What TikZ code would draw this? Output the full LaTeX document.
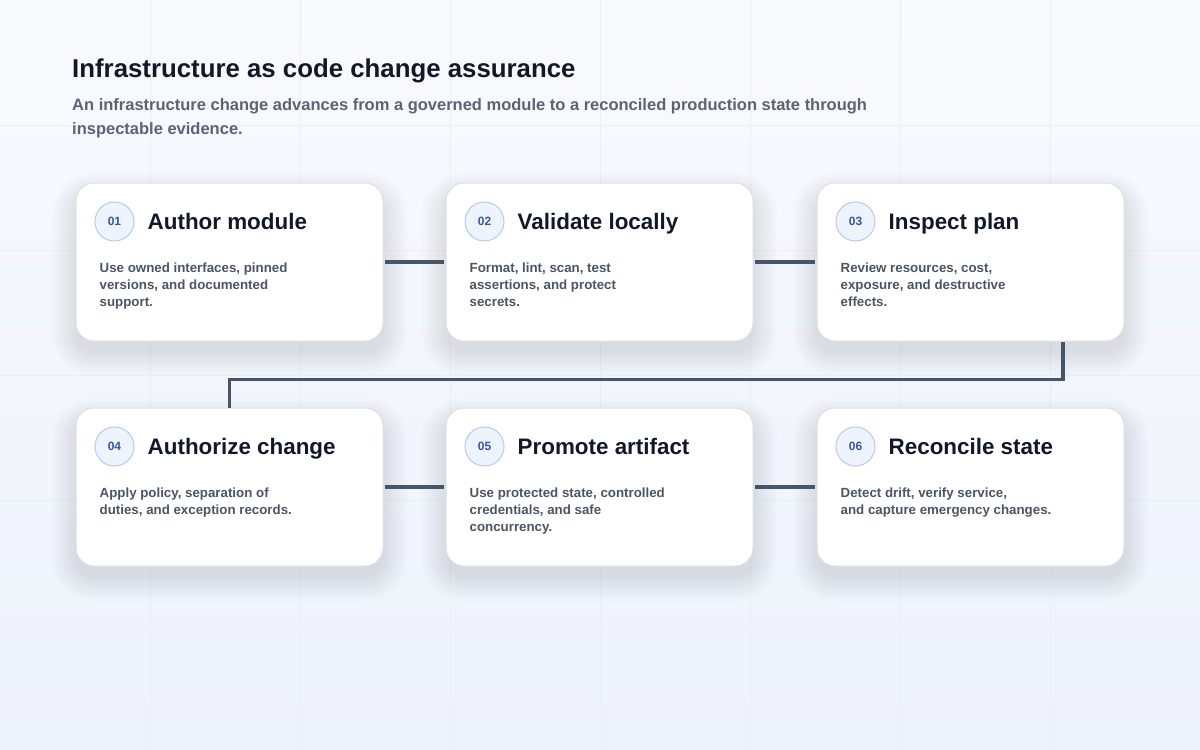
\documentclass[tikz,border=0pt]{standalone}
\usepackage{fontspec}
\setmainfont{Liberation Sans}
\usetikzlibrary{calc}
\definecolor{bgtop}{HTML}{F8FAFD}
\definecolor{bgbot}{HTML}{EEF2FB}
\definecolor{gridc}{HTML}{EAEEF5}
\definecolor{titlec}{HTML}{111827}
\definecolor{subc}{HTML}{5A6476}
\definecolor{bodyc}{HTML}{4B5563}
\definecolor{cardline}{HTML}{D9E0EA}
\definecolor{connc}{HTML}{475569}
\definecolor{badgefill}{HTML}{EEF4FD}
\definecolor{badgeline}{HTML}{B9C9E8}
\definecolor{badgetext}{HTML}{3556A3}
\definecolor{shadowc}{HTML}{5A6A8C}
\pgfdeclarelayer{bglayer}
\pgfdeclarelayer{shadowlayer}
\pgfsetlayers{bglayer,shadowlayer,main}
\begin{document}
\begin{tikzpicture}[x=1pt,y=-1pt,
  card/.style={rectangle, rounded corners=18pt, minimum width=307pt, minimum height=158pt,
    fill=white, draw=cardline, line width=1pt},
  badge/.style={circle, minimum size=39pt, inner sep=0pt, fill=badgefill, draw=badgeline, line width=1pt,
    text=badgetext, font=\bfseries\fontsize{12}{13}\selectfont},
  cardtitle/.style={anchor=base west, inner sep=0pt, text=titlec, font=\bfseries\fontsize{22.4}{26}\selectfont},
  cardbody/.style={anchor=north west, inner sep=0pt, align=left, text=bodyc, font=\bfseries\fontsize{13.3}{17}\selectfont},
  conn/.style={draw=connc, line width=3.5pt},
  shadowpiece/.style={fill=shadowc, fill opacity=0.01},
]
\useasboundingbox (0,0) rectangle (1200,750);
\begin{pgfonlayer}{bglayer}
\shade[top color=bgtop, bottom color=bgbot] (0,0) rectangle (1200,750);
\foreach \x in {150,300,...,1050} \draw[gridc, line width=0.8pt] (\x,0) -- (\x,750);
\foreach \y in {125,250,...,625} \draw[gridc, line width=0.8pt] (0,\y) -- (1200,\y);
\end{pgfonlayer}

\node[anchor=base west, inner sep=0pt, text=titlec, font=\bfseries\fontsize{25.8}{30}\selectfont] (title) at (72,77) {Infrastructure as code change assurance};
\node[anchor=north west, inner sep=0pt, align=left, text=subc, font=\bfseries\fontsize{16.5}{24}\selectfont] (sub) at (72,98) {An infrastructure change advances from a governed module to a reconciled production state through\\inspectable evidence.};

\node[card] (c1) at (229.5,262) {};
\node[card] (c2) at (599.5,262) {};
\node[card] (c3) at (970.5,262) {};
\node[card] (c4) at (229.5,487) {};
\node[card] (c5) at (599.5,487) {};
\node[card] (c6) at (970.5,487) {};

\begin{pgfonlayer}{shadowlayer}
\foreach \c in {c1,c2,c3,c4,c5,c6}{
  \foreach \i in {0,2,...,24}{
    \fill[shadowpiece, rounded corners={18pt+\i pt}] ($(\c.north west)+(-\i,-\i+14)$) rectangle ($(\c.south east)+(\i,\i+10)$);
  }
}
\end{pgfonlayer}

\foreach \c/\n/\t/\b in {
  c1/01/Author module/{Use owned interfaces, pinned\\versions, and documented\\support.},
  c2/02/Validate locally/{Format, lint, scan, test\\assertions, and protect\\secrets.},
  c3/03/Inspect plan/{Review resources, cost,\\exposure, and destructive\\effects.},
  c4/04/Authorize change/{Apply policy, separation of\\duties, and exception records.},
  c5/05/Promote artifact/{Use protected state, controlled\\credentials, and safe\\concurrency.},
  c6/06/Reconcile state/{Detect drift, verify service,\\and capture emergency changes.}}{
  \node[badge] (\c-badge) at ($(\c.north west)+(39,39)$) {\n};
  \node[cardtitle] (\c-title) at ($(\c.north west)+(72,46.5)$) {\t};
  \node[cardbody] (\c-body) at ($(\c.north west)+(24,80.5)$) {\b};
}

\draw[conn, shorten <=1pt, shorten >=2pt] (c1.east) -- (c2.west);
\draw[conn, shorten <=1pt, shorten >=2pt] (c2.east) -- (c3.west);
\draw[conn, shorten <=1pt, shorten >=2pt] (c4.east) -- (c5.west);
\draw[conn, shorten <=1pt, shorten >=2pt] (c5.east) -- (c6.west);
\coordinate (d3) at ($(c3.south west)!0.8!(c3.south east)$);
\draw[conn] (d3) -- ++(0,38) -| (c4.north);
\end{tikzpicture}
\end{document}
